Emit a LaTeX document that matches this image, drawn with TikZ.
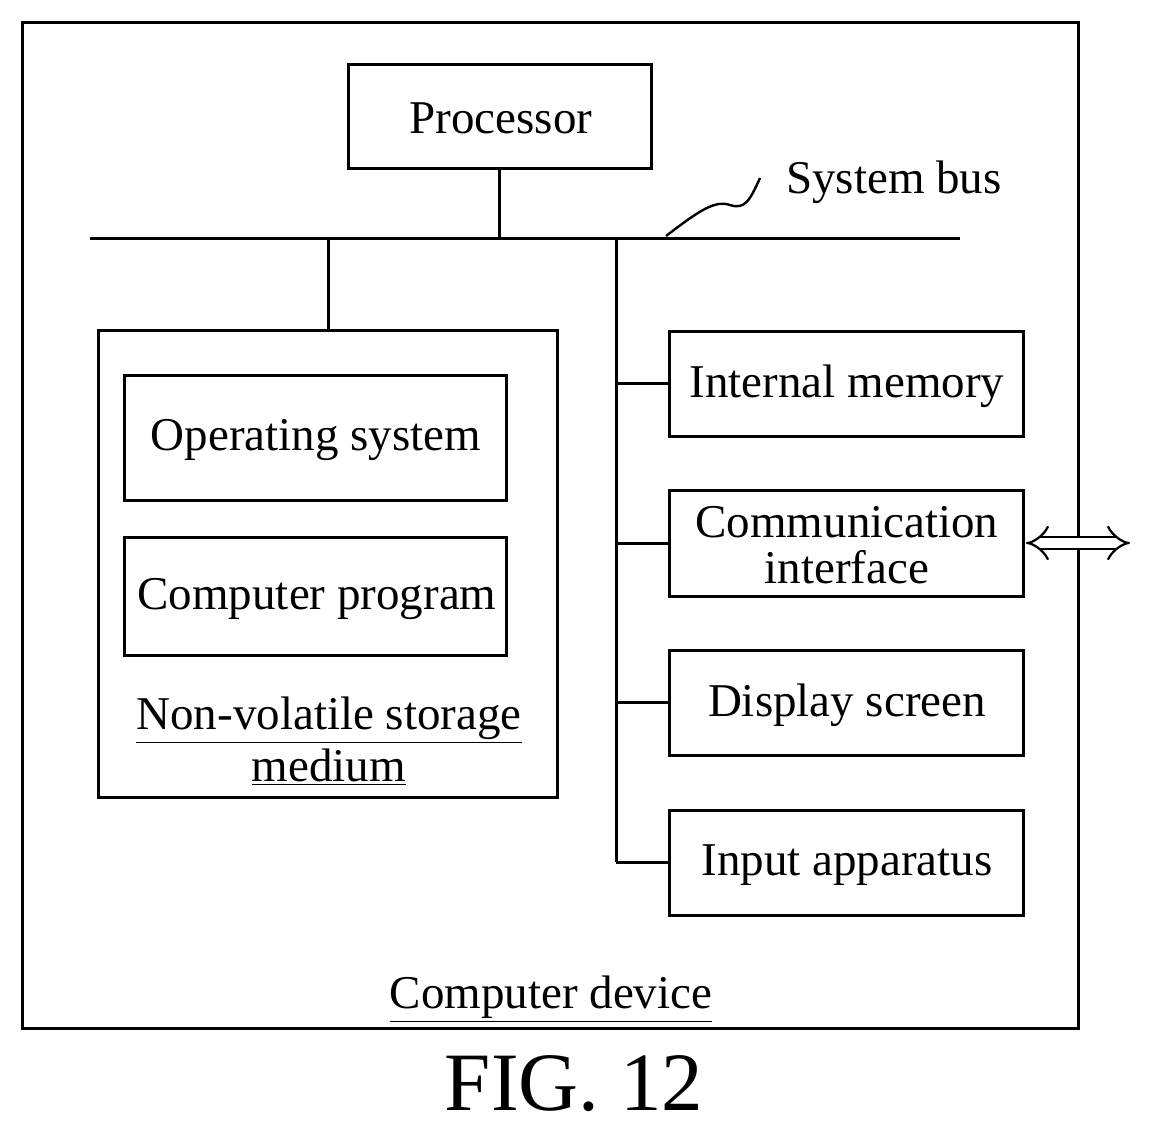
\documentclass[tikz,border=0pt]{standalone}
\usepackage{fontspec}
\setmainfont{Liberation Serif}
\usetikzlibrary{arrows.meta}
\begin{document}
\begin{tikzpicture}[x=0.5pt,y=-0.5pt,line width=1.5pt,
 box/.style={draw,line width=1.5pt},
 lbl/.style={font=\fontsize{23.5}{25}\selectfont,align=center}]
\useasboundingbox (0,0) rectangle (1152,1130);
\draw[box] (22,22) rectangle (1078,1028);
\draw[box] (348,64) rectangle (651,168);
\node[lbl] (proc) at (501,118) {Processor};
\coordinate (pb) at (499,168);
\coordinate (bl) at (90,238); \coordinate (br) at (960,238);
\draw (bl) -- (br);
\draw (pb) -- (499,238);
\coordinate (sq) at (666,236);
\draw[line width=1.2pt] (sq) .. controls (700,210) and (715,200) .. (730,205) .. controls (745,210) and (750,200) .. (760,178);
\node[lbl,anchor=west] (sb) at (778,182) {System bus};
\draw (328,238) -- (328,330);
\draw[box] (98,330) rectangle (557,797);
\draw[box] (124,375) rectangle (506,500);
\node[lbl] (os) at (316,440) {Operating system};
\draw[box] (124,537) rectangle (506,655);
\node[lbl] (cp) at (317,599) {Computer program};
\node[lbl] (nvs) at (329,720) {\underline{Non-volatile storage}};
\node[lbl] (nvs2) at (329,767) {\underline{medium}};
\draw (616,238) -- (616,862);
\foreach \y/\t/\n in {331/Internal memory/im,650/Display screen/ds,810/Input apparatus/ia}{
  \draw[box] (669,\y) rectangle (1023,\y+105);
  \draw (616,\y+52) -- (669,\y+52);
  \node[lbl] (\n) at (847,\y+55) {\t};
}
\draw[box] (669,490) rectangle (1023,596);
\draw (616,543) -- (669,543);
\node[lbl,align=center] (ci) at (847,545) {Communication\\[-2pt]interface};
\coordinate (ae) at (1130,543);
\draw[line width=1.1pt,double,double distance=5pt,{Implies[length=8pt]}-{Implies[length=8pt]}] (1026,543) -- (ae);
\node[lbl] (cd) at (551,999) {\underline{Computer device}};
\node[font=\fontsize{41.5}{44}\selectfont] (fig) at (574,1084) {FIG. 12};
\end{tikzpicture}
\end{document}
